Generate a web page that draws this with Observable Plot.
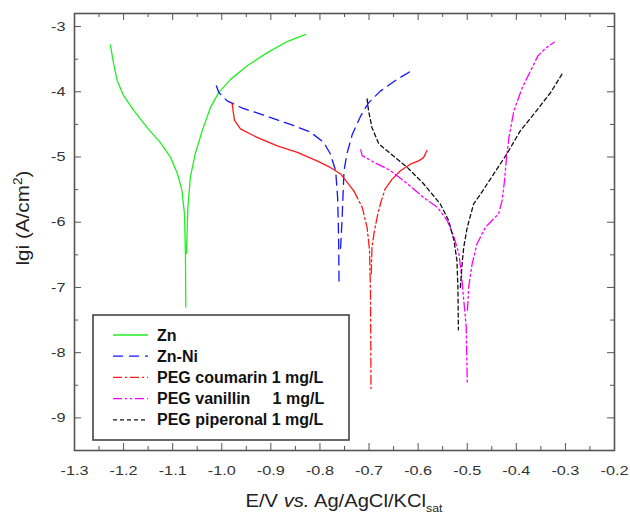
<!DOCTYPE html>
<html><head><meta charset="utf-8">
<script src="https://cdn.jsdelivr.net/npm/d3@7"></script>
<script src="https://cdn.jsdelivr.net/npm/@observablehq/plot@0.6"></script>
<style>body{margin:0;background:#fff} svg{display:block}</style>
</head><body><div id="chart"></div>
<script>
// ---- data (E / V vs Ag/AgCl/KCl_sat, lg i / A cm^-2) ----
const seriesNames = ["Zn", "Zn-Ni", "PEG coumarin 1 mg/L", "PEG vanillin     1 mg/L", "PEG piperonal 1 mg/L"];
const seriesColors = ["#22ee22", "#1515ff", "#ff1a1a", "#ff00ff", "#111111"];
const seriesDash = [null, "10,6", "9,3,2,3", "9,3,2,3,2,3", "4,3"];

const znE   = [-1.227,-1.220,-1.213,-1.200,-1.179,-1.152,-1.125,-1.104,-1.090,-1.081,-1.076,-1.074,-1.0733,-1.072,-1.069,-1.064,-1.054,-1.040,-1.023,-1.006,-0.982,-0.948,-0.907,-0.867,-0.829];
const znLgi = [-3.28,-3.58,-3.83,-4.06,-4.29,-4.55,-4.78,-5.01,-5.26,-5.52,-5.87,-6.48,-7.30,-6.48,-5.77,-5.31,-4.95,-4.60,-4.24,-4.01,-3.81,-3.60,-3.40,-3.23,-3.12];

const niE   = [-1.011,-1.006,-0.989,-0.958,-0.914,-0.860,-0.819,-0.792,-0.779,-0.768,-0.764,-0.762,-0.761,-0.758,-0.755,-0.751,-0.745,-0.734,-0.717,-0.701,-0.677,-0.643,-0.612];
const niLgi = [-3.91,-4.01,-4.14,-4.25,-4.36,-4.50,-4.62,-4.78,-4.95,-5.21,-5.62,-6.23,-6.99,-6.40,-5.97,-5.21,-4.95,-4.65,-4.37,-4.17,-3.99,-3.81,-3.67];

const cmE   = [-0.979,-0.977,-0.974,-0.962,-0.928,-0.887,-0.846,-0.806,-0.779,-0.758,-0.731,-0.714,-0.704,-0.699,-0.697,-0.696,-0.6955,-0.694,-0.689,-0.682,-0.675,-0.667,-0.653,-0.636,-0.616,-0.599,-0.589,-0.582];
const cmLgi = [-4.17,-4.29,-4.44,-4.57,-4.70,-4.83,-4.93,-5.06,-5.16,-5.26,-5.52,-5.77,-6.08,-6.43,-7.09,-8.55,-6.79,-6.38,-6.13,-5.87,-5.67,-5.49,-5.34,-5.21,-5.11,-5.06,-5.01,-4.90];

const vnE   = [-0.717,-0.714,-0.690,-0.656,-0.622,-0.589,-0.561,-0.541,-0.527,-0.517,-0.512,-0.507,-0.502,-0.500,-0.4995,-0.497,-0.490,-0.480,-0.463,-0.449,-0.436,-0.429,-0.424,-0.420,-0.415,-0.405,-0.388,-0.371,-0.356,-0.340,-0.323];
const vnLgi = [-4.89,-4.98,-5.08,-5.21,-5.41,-5.62,-5.77,-5.97,-6.23,-6.48,-6.79,-7.20,-7.61,-8.45,-7.35,-6.99,-6.64,-6.33,-6.08,-5.97,-5.87,-5.67,-5.36,-5.01,-4.70,-4.29,-3.94,-3.68,-3.45,-3.33,-3.24];

const ppE   = [-0.704,-0.701,-0.694,-0.680,-0.656,-0.622,-0.589,-0.555,-0.538,-0.527,-0.521,-0.519,-0.518,-0.514,-0.510,-0.507,-0.500,-0.487,-0.473,-0.446,-0.419,-0.392,-0.364,-0.330,-0.307];
const ppLgi = [-4.11,-4.29,-4.55,-4.80,-4.95,-5.16,-5.41,-5.72,-5.97,-6.28,-6.59,-6.99,-7.65,-7.00,-6.60,-6.38,-6.08,-5.72,-5.57,-5.26,-4.95,-4.60,-4.34,-4.01,-3.73];

const xTicks = [-1.3,-1.2,-1.1,-1.0,-0.9,-0.8,-0.7,-0.6,-0.5,-0.4,-0.3,-0.2];
const xMinor = [-1.25,-1.15,-1.05,-0.95,-0.85,-0.75,-0.65,-0.55,-0.45,-0.35,-0.25];
const yTicks = [-9,-8,-7,-6,-5,-4,-3];
const yMinor = [-8.5,-7.5,-6.5,-5.5,-4.5,-3.5];

// ---- build tables ----
function rows(E, L) {
  let m = 0; L.forEach((v, i) => { if (v < L[m]) m = i; });
  return E.map((e, i) => ({E: e, lgi: L[i], branch: i <= m ? "c" : "a"}));
}
const tables = [rows(znE, znLgi), rows(niE, niLgi), rows(cmE, cmLgi), rows(vnE, vnLgi), rows(ppE, ppLgi)];

const W = 630, H = 514, ML = 74, MR = 16, MT = 13, MB = 64;
const FW = W - ML - MR, FH = H - MT - MB;
const axisColor = "#555";
const font = "Liberation Sans, Arial, Helvetica, sans-serif";

const lineMarks = [];
tables.forEach((t, i) => {
  const base = {x: "E", y: "lgi", z: "branch", stroke: seriesColors[i], strokeWidth: 1.3, curve: "linear"};
  if (i === 2) {
    lineMarks.push(Plot.line(t, {...base, filter: d => d.lgi >= -5.6}));
    lineMarks.push(Plot.line(t, {...base, filter: d => d.lgi <= -5.45, strokeDasharray: seriesDash[i]}));
  } else {
    lineMarks.push(Plot.line(t, {...base, strokeDasharray: seriesDash[i] || undefined}));
  }
});

const chart = Plot.plot({
  width: W, height: H,
  marginLeft: ML, marginRight: MR, marginTop: MT, marginBottom: MB,
  style: {fontFamily: font, background: "#fff"},
  x: {domain: [-1.3, -0.2], axis: null},
  y: {domain: [-9.5, -2.8], axis: null},
  marks: [
    ...lineMarks,
    Plot.tickX(xTicks, {x: d => d, insetTop: FH - 7, stroke: axisColor, strokeWidth: 1}),
    Plot.tickX(xTicks, {x: d => d, insetBottom: FH - 7, stroke: axisColor, strokeWidth: 1}),
    Plot.tickX(xMinor, {x: d => d, insetTop: FH - 4, stroke: axisColor, strokeWidth: 1}),
    Plot.tickX(xMinor, {x: d => d, insetBottom: FH - 4, stroke: axisColor, strokeWidth: 1}),
    Plot.tickY(yTicks, {y: d => d, insetRight: FW - 7, stroke: axisColor, strokeWidth: 1}),
    Plot.tickY(yTicks, {y: d => d, insetLeft: FW - 7, stroke: axisColor, strokeWidth: 1}),
    Plot.tickY(yMinor, {y: d => d, insetRight: FW - 4, stroke: axisColor, strokeWidth: 1}),
    Plot.tickY(yMinor, {y: d => d, insetLeft: FW - 4, stroke: axisColor, strokeWidth: 1}),
    Plot.axisX({ticks: xTicks, tickSize: 0, tickPadding: 15, tickFormat: d => d.toFixed(1), fontSize: 13, color: "#333", label: null}),
    Plot.axisY({ticks: yTicks, tickSize: 0, tickPadding: 9, tickFormat: d => String(d), fontSize: 13, color: "#333", label: null}),
    Plot.frame({stroke: axisColor, strokeWidth: 1.6})
  ]
});
document.getElementById("chart").appendChild(chart);

const svg = d3.select(chart);
// widen tick label glyphs like the reference
function stretch(el, s) {
  const x = +el.getAttribute("x") || 0, y = +el.getAttribute("y") || 0;
  const tr = el.getAttribute("transform") || "";
  el.setAttribute("transform", `${tr} translate(${x},${y}) scale(${s},1) translate(${-x},${-y})`);
}
svg.selectAll('g[aria-label="x-axis tick label"] text, g[aria-label="y-axis tick label"] text').each(function(){ stretch(this, 1.25); });

// axis titles
const xt = svg.append("text").attr("x", ML + FW / 2).attr("y", 507).attr("text-anchor", "middle")
  .attr("font-family", font).attr("font-size", 18).attr("fill", "#222");
xt.append("tspan").text("E/V ");
xt.append("tspan").attr("font-style", "italic").text("vs.");
xt.append("tspan").text(" Ag/AgCl/KCl");
xt.append("tspan").attr("font-size", 11).attr("dy", 5).text("sat");
stretch(xt.node(), 1.12);

const yt = svg.append("text").attr("transform", "translate(29,218) rotate(-90) scale(1.15,1)")
  .attr("text-anchor", "middle").attr("font-family", font).attr("font-size", 18).attr("fill", "#222");
yt.append("tspan").text("lgi (A/cm");
yt.append("tspan").attr("font-size", 12).attr("dy", -7).text("2");
yt.append("tspan").attr("dy", 7).text(")");

// legend
const lg = svg.append("g").attr("text-anchor", "start");
lg.append("rect").attr("x", 93).attr("y", 315).attr("width", 256).attr("height", 125)
  .attr("fill", "#fff").attr("stroke", "#444").attr("stroke-width", 1.6);
seriesNames.forEach((n, i) => {
  const cy = 335 + i * 21.2;
  lg.append("line").attr("x1", 113).attr("x2", 148).attr("y1", cy).attr("y2", cy)
    .attr("stroke", seriesColors[i]).attr("stroke-width", 1.3)
    .attr("stroke-dasharray", seriesDash[i] || null);
  lg.append("text").attr("x", 157).attr("y", cy + 5.6).attr("text-anchor", "start")
    .style("white-space", "pre").attr("font-family", font).attr("font-weight", "bold")
    .attr("font-size", 16).attr("fill", "#111").text(n);
});
</script>
</body></html>
